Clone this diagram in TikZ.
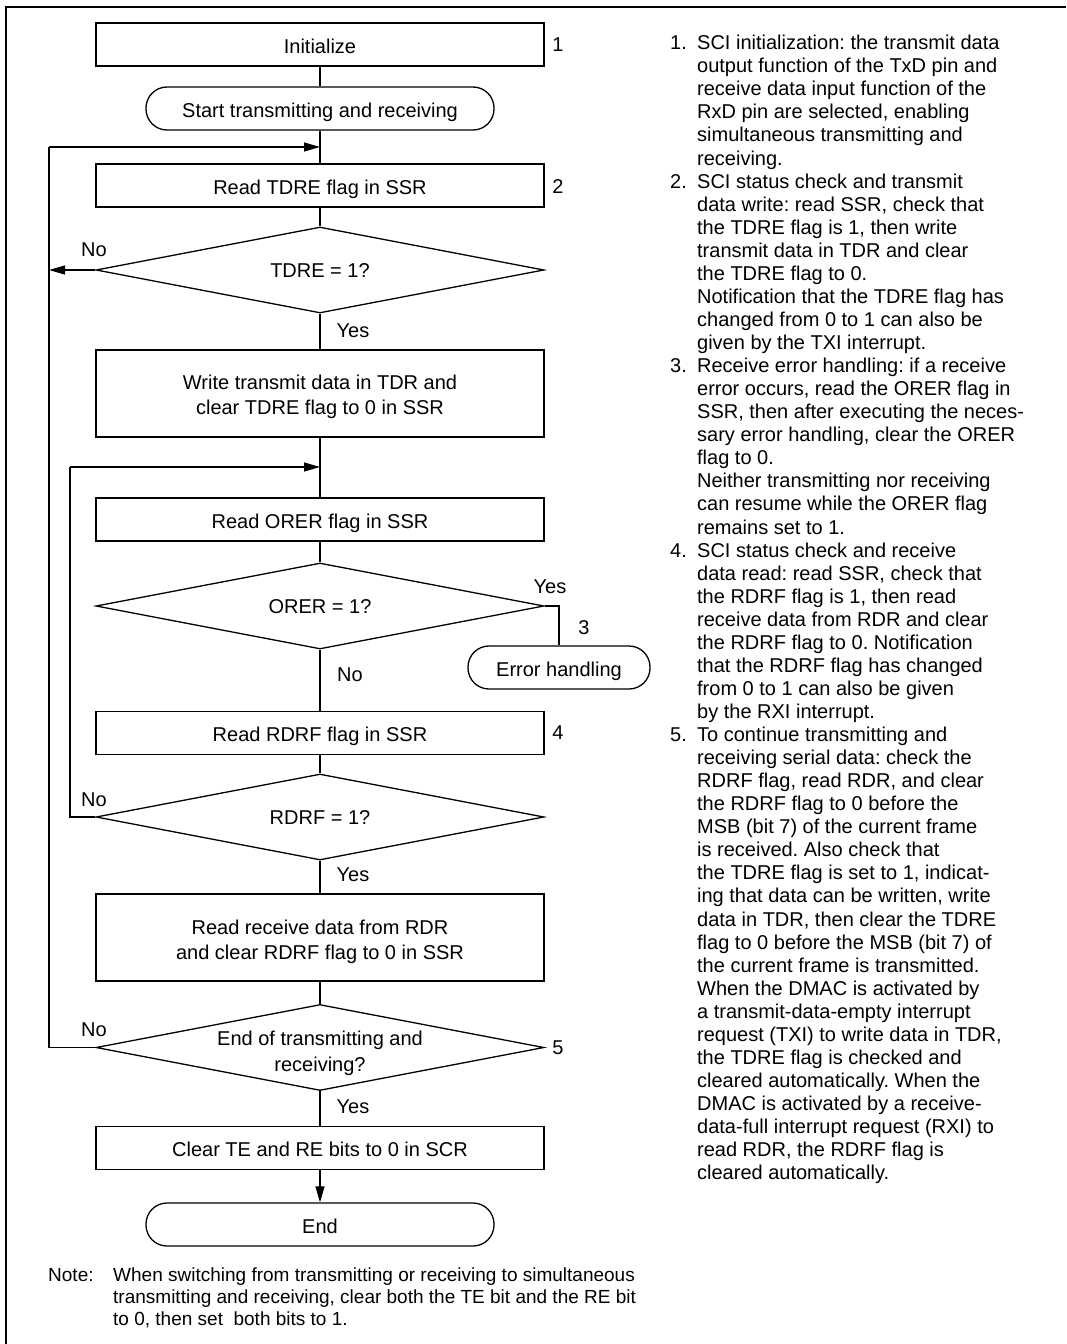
\documentclass[tikz,border=0pt]{standalone}
\usepackage{fontspec}
\setmainfont{Liberation Sans}
\usetikzlibrary{arrows.meta,shapes.geometric}
\frenchspacing
\newcommand{\flowfont}{\fontsize{20}{25.5}\selectfont}
\newcommand{\explainfont}{\fontsize{20}{23.06}\selectfont}
\newcommand{\remarkfont}{\fontsize{19}{22}\selectfont}
\tikzset{procbox/.style={rectangle,draw,line width=1.3pt,minimum width=448pt,
 minimum height=43pt,inner sep=0pt,align=center,font=\flowfont},
 oneline/.style={text height=19pt,text depth=1.5pt},
 tallbox/.style={procbox,minimum height=87pt},
 decision/.style={diamond,draw,line width=1.3pt,minimum width=448pt,
 minimum height=86pt,aspect=5.2,inner sep=0pt,align=center,font=\flowfont},
 terminal/.style={rectangle,rounded corners=21pt,draw,line width=1.3pt,
 minimum height=43pt,inner sep=0pt,font=\flowfont,oneline},
 connection/.style={draw,line width=1.1pt},
 flowarrow/.style={connection,-{Triangle[length=16pt,width=9pt]}},
 steplabel/.style={font=\flowfont,inner sep=0pt},
 explain/.style={font=\explainfont,inner sep=0pt,align=left},
 remark/.style={font=\remarkfont,inner sep=0pt,align=left}}

\begin{document}
\begin{tikzpicture}[x=1pt,y=-1pt]
 \useasboundingbox (0,0) rectangle (1066,1344);
 \draw[line width=2pt] (6,1344) -- (6,7) -- (1066,7);
 % flow
 \node[procbox,oneline] (init) at (320,44.5) {Initialize};
 \node[terminal,minimum width=348pt] (start) at (320,108.5) {Start transmitting and receiving};
 \node[procbox,oneline] (tdrebox) at (320,185.5) {Read TDRE flag in SSR};
 \node[decision,text height=16pt,text depth=1.5pt] (tdre) at (320,270) {TDRE = 1?};
 \node[tallbox] (write) at (320,393.5) {\rule{0pt}{21pt}Write transmit data in TDR and\\clear TDRE flag to 0 in SSR};
 \node[procbox,oneline] (orerbox) at (320,519.5) {Read ORER flag in SSR};
 \node[decision,text height=16pt,text depth=1.5pt] (orer) at (320,606) {ORER = 1?};
 \node[terminal,minimum width=182pt] (errh) at (559,667.5) {Error handling};
 \node[procbox,oneline] (rdrfbox) at (320,733) {Read RDRF flag in SSR};
 \node[decision,text height=16pt,text depth=1.5pt] (rdrf) at (320,817) {RDRF = 1?};
 \node[tallbox] (recv) at (320,937.5) {\rule{0pt}{23pt}Read receive data from RDR\\and clear RDRF flag to 0 in SSR};
 \node[decision,inner ysep=-12pt] (endq) at (320,1047.5) {\rule{0pt}{26pt}End of transmitting and\\receiving?};
 \node[procbox,oneline] (clear) at (320,1148) {Clear TE and RE bits to 0 in SCR};
 \node[terminal,minimum width=348pt] (stop) at (320,1224.5) {End};
 \coordinate (outertop) at (49,147);
 \coordinate (innertop) at (70,467);
 % connectors
 \draw[connection] (init) -- (start);
 \draw[connection] (start) -- (tdrebox);
 \draw[flowarrow] (outertop) -- (outertop -| start.south);
 \draw[connection] (tdrebox) -- (tdre);
 \draw[flowarrow] (tdre.west) -- (tdre.west -| outertop);
 \draw[connection] (tdre) -- (write);
 \draw[connection] (write) -- (orerbox);
 \draw[flowarrow] (innertop) -- (innertop -| write.south);
 \draw[connection] (orerbox) -- (orer);
 \draw[connection] (orer.east) -| (errh.north);
 \draw[connection] (orer) -- (rdrfbox);
 \draw[connection] (rdrfbox) -- (rdrf);
 \draw[connection] (rdrf.west) -| (innertop);
 \draw[connection] (rdrf) -- (recv);
 \draw[connection] (recv) -- (endq);
 \draw[connection] (endq.west) -| (outertop);
 \draw[connection] (endq) -- (clear);
 \draw[flowarrow] (clear) -- (stop);
 % labels
 \node[steplabel] (n1) at (558,45) {1};
 \node[steplabel] (n2) at (558,187) {2};
 \node[steplabel] (n3) at (584,628) {3};
 \node[steplabel] (n4) at (558,733) {4};
 \node[steplabel] (n5) at (558,1048) {5};
 \node[steplabel] (no1) at (94,250) {No};
 \node[steplabel] (yes1) at (353,331) {Yes};
 \node[steplabel] (yes2) at (550,587) {Yes};
 \node[steplabel] (no2) at (350,675) {No};
 \node[steplabel] (no3) at (94,800) {No};
 \node[steplabel] (yes3) at (353,875) {Yes};
 \node[steplabel] (no4) at (94,1030) {No};
 \node[steplabel] (yes4) at (353,1107) {Yes};
 % notes
 \node[explain,anchor=north west] (steps) at (670,33.4)
 {\begin{tabular}{@{}l@{\hspace{10.3pt}}l@{}}
 1. & SCI initialization: the transmit data\\
    & output function of the TxD pin and\\
    & receive data input function of the\\
    & RxD pin are selected, enabling\\
    & simultaneous transmitting and\\
    & receiving.\\
 2. & SCI status check and transmit\\
    & data write: read SSR, check that\\
    & the TDRE flag is 1, then write\\
    & transmit data in TDR and clear\\
    & the TDRE flag to 0.\\
    & Notification that the TDRE flag has\\
    & changed from 0 to 1 can also be\\
    & given by the TXI interrupt.\\
 3. & Receive error handling: if a receive\\
    & error occurs, read the ORER flag in\\
    & SSR, then after executing the neces-\\
    & sary error handling, clear the ORER\\
    & flag to 0.\\
    & Neither transmitting nor receiving\\
    & can resume while the ORER flag\\
    & remains set to 1.\\
 4. & SCI status check and receive\\
    & data read: read SSR, check that\\
    & the RDRF flag is 1, then read\\
    & receive data from RDR and clear\\
    & the RDRF flag to 0. Notification\\
    & that the RDRF flag has changed\\
    & from 0 to 1 can also be given\\
    & by the RXI interrupt.\\
 5. & To continue transmitting and\\
    & receiving serial data: check the\\
    & RDRF flag, read RDR, and clear\\
    & the RDRF flag to 0 before the\\
    & MSB (bit 7) of the current frame\\
    & is received. Also check that\\
    & the TDRE flag is set to 1, indicat-\\
    & ing that data can be written, write\\
    & data in TDR, then clear the TDRE\\
    & flag to 0 before the MSB (bit 7) of\\
    & the current frame is transmitted.\\
    & When the DMAC is activated by\\
    & a transmit-data-empty interrupt\\
    & request (TXI) to write data in TDR,\\
    & the TDRE flag is checked and\\
    & cleared automatically. When the\\
    & DMAC is activated by a receive-\\
    & data-full interrupt request (RXI) to\\
    & read RDR, the RDRF flag is\\
    & cleared automatically.
 \end{tabular}};
 \node[remark,anchor=north west] (footnote) at (48,1265.6)
 {\begin{tabular}{@{}l@{\hspace{19.6pt}}l@{}}
 Note: & When switching from transmitting or receiving to simultaneous\\
       & transmitting and receiving, clear both the TE bit and the RE bit\\
       & to 0, then set \ both bits to 1.
 \end{tabular}};
\end{tikzpicture}
\end{document}
